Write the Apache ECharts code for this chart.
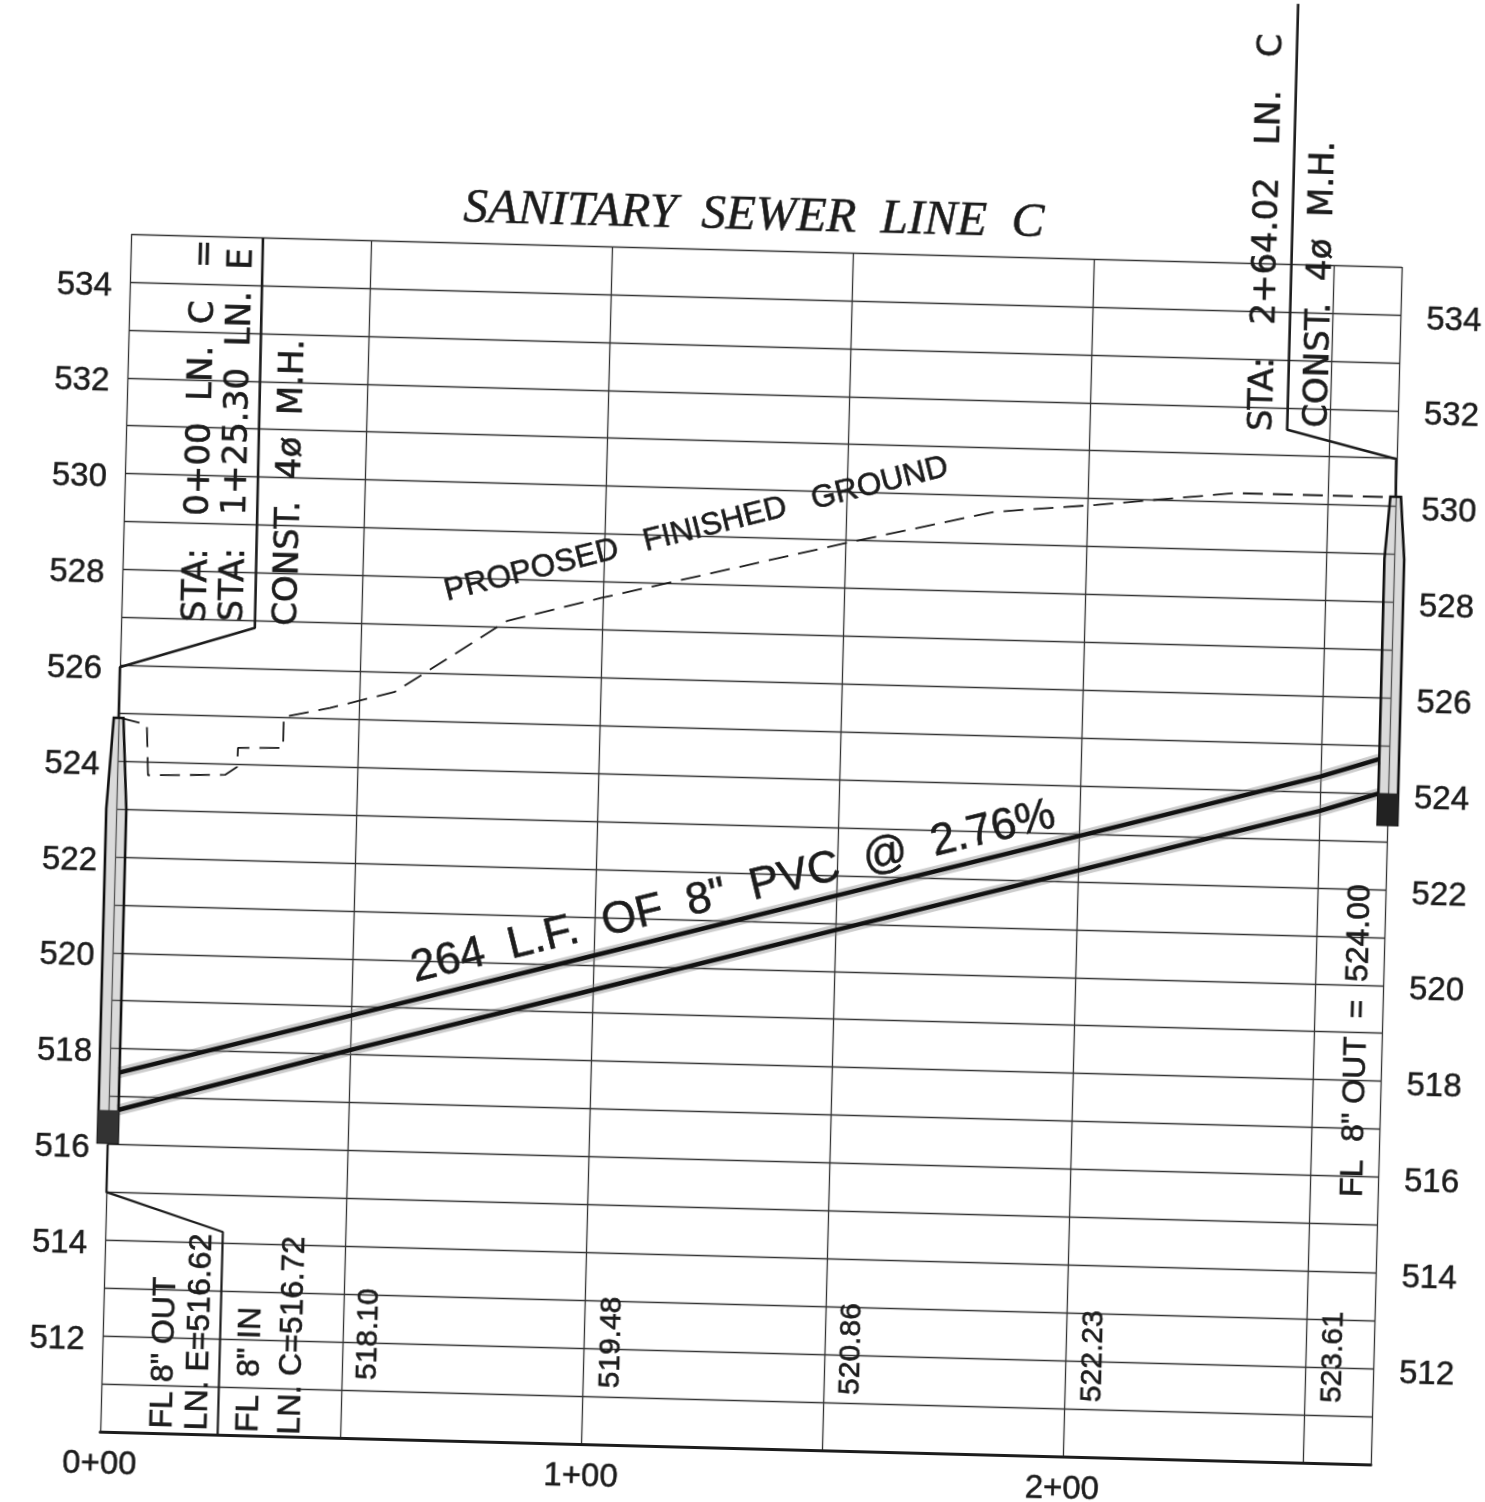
<!DOCTYPE html>
<html><head><meta charset="utf-8">
<style>
html,body{margin:0;padding:0;background:#fff;width:1485px;height:1502px;overflow:hidden}
#wrap{position:absolute;left:0;top:0;width:1485px;height:1502px;overflow:hidden}
#chart{position:absolute;left:-50px;top:-50px;width:1585px;height:1602px;transform:rotate(1.48deg);transform-origin:792.5px 801px}
</style>
<script src="https://cdn.jsdelivr.net/npm/echarts@6/dist/echarts.min.js"></script>
</head><body><div id="wrap"><div id="chart"></div></div>
<script>
const titleText = 'SANITARY  SEWER  LINE  C';
const stationTicks = {0:'0+00',100:'1+00',200:'2+00'};
const elevationLabels = [512,514,516,518,520,522,524,526,528,530,532,534];

const groundX = [0.3,5.9,6.4,22.4,24.85,24.95,34.3,34.3,43.8,57.2,80.1,99.5,150.1,180.7,201.8,230.6,261.4];
const groundY = [524.90,524.77,523.72,523.77,523.94,524.34,524.36,525.01,525.22,525.59,527.13,527.66,528.94,529.67,529.87,530.19,530.19];

const pipeX = [2,50,100,150,200,250,262];
const invertY = [516.72,518.10,519.48,520.86,522.23,523.61,524.00];
const crownY = [517.50,518.82,520.20,521.58,522.95,524.33,524.72];

const leaderTopLeft = [[27.4,535],[27.8,526.85],[0,525.96],[0,524.9]];
const leaderTopRight = [[241.1,540.43],[241.1,531.54],[263.9,530.99],[264,530.2]];
const leaderBottomLeft = [[0,516],[0,515],[24.4,514.23],[24.4,510]];

const manholeLeft = [[-1,524.9],[1,524.9],[2.08,523],[2.08,516.03],[-2.08,516.03],[-2.08,523]];
const baseLeft = [[-2.08,516.7],[2.08,516.7],[2.08,516.03],[-2.08,516.03]];
const manholeRight = [[262.9,530.2],[265.1,530.2],[266.1,528.9],[266.1,523.35],[262,523.35],[262,528.9]];
const baseRight = [[262,524.0],[266.1,524.0],[266.1,523.35],[262,523.35]];

const upperNotes = ['STA:   0+00  LN.  C   =','STA:   1+25.30  LN.  E','CONST.  4ø  M.H.','STA:   2+64.02   LN.   C','CONST.  4ø  M.H.'];
const upperNoteX = [15.6,23.2,34.5,236.1,247.5];
const upperNoteY = [526.94,526.97,526.91,531.5,531.6];

const lowerNotes = ['FL 8" OUT','LN. E=516.62','FL  8" IN','LN. C=516.72','FL  8" OUT  =  524.00'];
const lowerNoteX = [13.0,20.1,30.7,39.4,258.9];
const lowerNoteY = [510.1,510.08,510.07,510.04,515.57];

const inverts = ['518.10','519.48','520.86','522.23','523.61'];
const invertTextX = [55.3,105.6,155.5,205.8,255.6];
const invertTextY = [511.22,511.18,511.17,511.15,511.26];

const groundNote = 'PROPOSED   FINISHED   GROUND';
const pipeNote = '264  L.F.  OF  8"  PVC  @  2.76%';

const ink = '#1c1c1c', gridInk = '#333';
const rad = d => d*Math.PI/180;
const pairs = (xs,ys) => xs.map((x,i)=>[x,ys[i]]);

function poly(points, style, z){
  return {type:'custom', coordinateSystem:'cartesian2d', clip:false, z, silent:true, data:[points[0]],
    renderItem:(p,api)=>({type:'polygon', shape:{points:points.map(q=>api.coord(q))}, style})};
}
function textSeries(items, font, z){
  return {type:'custom', coordinateSystem:'cartesian2d', clip:false, z, silent:true,
    data:items.map(t=>[t.x,t.y]),
    renderItem:(p,api)=>{const t=items[p.dataIndex]; const c=api.coord([t.x,t.y]);
      return {type:'text', x:c[0], y:c[1], rotation:rad(t.rot),
        style:{text:t.text, font, fill:ink, stroke:ink, lineWidth:0.6, textAlign:'left', textVerticalAlign:'middle'}};}};
}
function line(data, width, color, z, extra){
  return Object.assign({type:'line', data, symbol:'none', clip:false, z, silent:true,
    lineStyle:{width, color}}, extra||{});
}

const chart = echarts.init(document.getElementById('chart'));
chart.setOption({
  animation:false, backgroundColor:'#fff',
  title:{text:titleText, left:785, top:237, textAlign:'center',
    textStyle:{fontFamily:'Liberation Serif', fontStyle:'italic', fontWeight:'normal', fontSize:49, color:ink,
      textBorderColor:ink, textBorderWidth:0.5}},
  grid:{left:168, right:146, top:300, bottom:104},
  xAxis:{type:'value', min:0, max:264.02, interval:50,
    axisLine:{show:true, onZero:false, lineStyle:{color:ink, width:3}}, axisTick:{show:false},
    splitLine:{show:true, lineStyle:{color:gridInk, width:1.3}},
    axisLabel:{margin:16, fontFamily:'Liberation Sans', fontSize:33, color:ink, showMaxLabel:false,
      textBorderColor:ink, textBorderWidth:0.5, formatter:v=>stationTicks[v]||''}},
  yAxis:[0,1].map(i=>({type:'value', min:510, max:535, interval:1, position:i?'right':'left',
    axisLine:{show:false}, axisTick:{show:false},
    splitLine:{show:i===0, lineStyle:{color:gridInk, width:1.3}},
    axisLabel:{margin:i?26:18, fontFamily:'Liberation Sans', fontSize:33, lineHeight:33, color:ink,
      verticalAlign:'top', padding:[-12,0,0,0],
      textBorderColor:ink, textBorderWidth:0.5, formatter:v=>elevationLabels.includes(v)?String(v):''}})),
  series:[
    line(pairs(pipeX,crownY),11,'rgba(130,130,130,.4)',3),
    line(pairs(pipeX,invertY),11,'rgba(130,130,130,.4)',3),
    line(pairs(pipeX,crownY),4.5,'#111',5),
    line(pairs(pipeX,invertY),4.5,'#111',5),
    line(pairs(groundX,groundY),1.8,ink,5,{lineStyle:{width:1.8,color:ink,type:[20,10]}}),
    line(leaderTopLeft,2.6,ink,5),
    line(leaderTopRight,2.6,ink,5),
    line(leaderBottomLeft,2.2,ink,5),
    poly(manholeLeft,{fill:'rgba(150,150,150,.35)',stroke:'#111',lineWidth:2.6},6),
    poly(baseLeft,{fill:'#333',stroke:'#333',lineWidth:1},7),
    poly(manholeRight,{fill:'rgba(150,150,150,.35)',stroke:'#111',lineWidth:2.6},6),
    poly(baseRight,{fill:'#222',stroke:'#222',lineWidth:1},7),
    textSeries(upperNotes.map((t,i)=>({text:t,x:upperNoteX[i],y:upperNoteY[i],rot:90})),'34px "DejaVu Sans"',8),
    textSeries(lowerNotes.map((t,i)=>({text:t,x:lowerNoteX[i],y:lowerNoteY[i],rot:90})),'32px "Liberation Sans"',8),
    textSeries(inverts.map((t,i)=>({text:t,x:invertTextX[i],y:invertTextY[i],rot:90})),'30px "Liberation Sans"',8),
    textSeries([{text:groundNote,x:67.1,y:527.7,rot:15.5}],'31.5px "Liberation Sans"',8),
    textSeries([{text:pipeNote,x:62.3,y:519.8,rot:15.1}],'44.6px "Liberation Sans"',8)
  ]
});
</script></body></html>
